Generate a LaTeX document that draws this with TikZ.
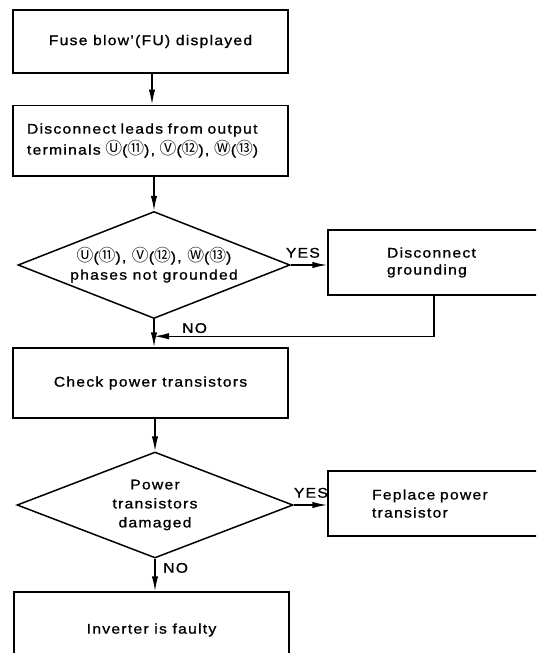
\documentclass[tikz,border=0pt]{standalone}
\usepackage{fontspec}
\setmainfont[FakeStretch=1.12,LetterSpace=9,FakeBold=1]{Liberation Sans}
\newfontfamily\symfont[Scale=1.2]{Noto Sans CJK JP}
\newcommand\sy[1]{{\symfont #1}}
\usetikzlibrary{shapes.geometric,arrows.meta}
\begin{document}
\begin{tikzpicture}[x=1pt,y=-1pt,
  every node/.style={font=\fontsize{14}{19}\selectfont},
  box/.style={draw,line width=1.5pt,rectangle,minimum width=275pt,inner sep=0pt},
  dia/.style={draw,line width=1.5pt,diamond,aspect=2.55,inner sep=0pt,align=center},
  arr/.style={line width=1.5pt,-{Latex[length=15pt,width=6.5pt]}},
  lbl/.style={inner sep=0pt}]
\clip (0,0) rectangle (536,653);
\fill[white] (0,0) rectangle (536,653);

\node[box,minimum height=63pt] (b1) at (150.5,41.5) {Fuse blow'(FU) displayed};
\node[box,minimum height=70.5pt,text width=247pt,inner xsep=14pt,align=left,
      font=\fontsize{14}{21}\selectfont] (b2) at (150.5,140.5)
  {Disconnect leads from output\\terminals \sy{Ⓤ}(\sy{⑪}), \sy{Ⓥ}(\sy{⑫}), \sy{Ⓦ}(\sy{⑬})};
\node[dia,minimum width=272pt,minimum height=107pt,font=\fontsize{14}{18}\selectfont] (d1) at (154,265)
  {\sy{Ⓤ}(\sy{⑪}), \sy{Ⓥ}(\sy{⑫}), \sy{Ⓦ}(\sy{⑬})\\phases not grounded};
\node[box,minimum width=212pt,minimum height=65pt,text width=94pt,inner xsep=59pt,align=left,
      font=\fontsize{14}{17}\selectfont] (b3) at (434,262.5) {Disconnect\\grounding};
\node[box,minimum height=70pt] (b4) at (150.5,383) {Check power transistors};
\node[dia,minimum width=276pt,minimum height=106pt] (d2) at (155,505)
  {Power\\transistors\\damaged};
\node[box,minimum width=212pt,minimum height=65pt,text width=124pt,inner xsep=44pt,align=left,
      font=\fontsize{14}{18}\selectfont] (b5) at (434,503.5) {Feplace power\\transistor};
\node[box,minimum height=76pt] (b6) at (151.5,630) {Inverter is faulty};

\draw[arr] ([xshift=1.5pt]b1.south) -- ([xshift=1.5pt]b2.north);
\draw[arr] (b2.south -| d1.north) -- (d1.north);
\draw[arr] (d1.east) -- (d1.east -| b3.west);
\node[lbl,anchor=south west] (yes1) at ([xshift=-5pt,yshift=7pt]d1.east) {YES};
\path (d1.south) ++(0,17) coordinate (j);
\draw[line width=1.5pt] (d1.south) -- (j);
\draw[arr] (j) -- (d1.south |- b4.north);
\draw[arr] (b3.south) |- (j);
\node[lbl,anchor=south west] (no1) at ([xshift=28pt,yshift=3pt]j) {NO};
\draw[arr] (b4.south -| d2.north) -- (d2.north);
\draw[arr] (d2.east) -- (d2.east -| b5.west);
\node[lbl,anchor=south west] (yes2) at ([xshift=0pt,yshift=7pt]d2.east) {YES};
\draw[arr] (d2.south) -- (d2.south |- b6.north);
\node[lbl,anchor=north west] (no2) at ([xshift=8pt,yshift=-4pt]d2.south) {NO};
\end{tikzpicture}
\end{document}
